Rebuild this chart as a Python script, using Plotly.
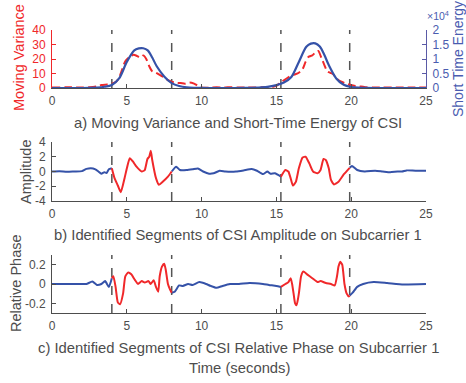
import numpy as np
import plotly.graph_objects as go

# ---------------- data ----------------
segment_bounds = [4.0, 8.0, 15.3, 19.9]
x_ticks = [0, 5, 10, 15, 20, 25]

# panel a: short time energy (right axis, raw units)
ste_t = [0, 1, 2, 2.5, 3, 3.5, 4, 4.5, 5, 5.5, 5.8, 6.1, 6.4, 6.7, 7, 7.5, 8, 8.5, 9, 9.5, 10,
         11, 12, 13, 14, 14.5, 15, 15.5, 16, 16.5, 17, 17.3, 17.6, 17.9, 18.2, 18.5, 19, 19.5,
         20, 20.5, 21, 22, 23, 24, 25]
ste_v = [0, 0, 0, 50, 150, 420, 1050, 3400, 9000, 13000, 13650, 13700, 13000, 10500, 7500, 4000,
         1700, 700, 250, 80, 20, 0, 0, 50, 250, 500, 1000, 1900, 3800, 9000, 14200, 15300, 15400,
         14300, 11500, 7900, 3300, 1100, 350, 100, 20, 0, 0, 0, 0]

# panel a: moving variance (left axis)
mv_t = [0, 1, 2, 2.5, 3, 3.3, 3.7, 4.0, 4.3, 4.5, 4.7, 4.9, 5.2, 5.45, 5.7, 5.9, 6.1, 6.3, 6.5,
        6.7, 6.95, 7.2, 7.45, 7.7, 8.0, 8.3, 8.6, 8.9, 9.2, 9.5, 9.75, 10, 10.5, 11, 11.5, 12,
        12.5, 13, 13.5, 14, 14.5, 15, 15.3, 15.6, 15.9, 16.2, 16.5, 16.75, 16.95, 17.15, 17.4,
        17.6, 17.8, 18.0, 18.2, 18.4, 18.6, 18.8, 19.0, 19.3, 19.6, 19.9, 20.2, 20.5, 20.8, 21,
        21.5, 22, 23, 24, 25]
mv_v = [0.3, 0.5, 0.3, 0.6, 1.2, 2.0, 2.5, 3.0, 4.5, 7.5, 13, 18.5, 21.5, 23, 22, 21, 22.5, 20,
        15, 11.5, 10.5, 9, 7.5, 5.8, 4.3, 3.6, 3.4, 3.0, 3.8, 3.0, 1.5, 0.3, 0.2, 0.5, 0.3, 0.6,
        0.3, 0.4, 0.3, 0.5, 0.4, 1.5, 4.0, 6.0, 8.0, 9.2, 10.5, 13, 18, 21.5, 22.5, 24.5, 25.5,
        21, 16, 11.5, 10.5, 9.5, 6.8, 4.5, 3.2, 2.2, 1.5, 1.2, 0.8, 0.5, 0.3, 0.4, 0.3, 0.3, 0.3]

# panel b: CSI amplitude on subcarrier 1
amp_t = [0, 0.5, 1, 1.5, 2, 2.3, 2.6, 2.9, 3.1, 3.3, 3.5, 3.65, 3.8, 4.0,
         4.18, 4.4, 4.6, 4.85, 5.0, 5.2, 5.43, 5.65, 6.0, 6.2, 6.38, 6.5, 6.6, 6.7, 6.95, 7.15,
         7.4, 7.75, 8.0,
         8.3, 8.55, 9.0, 9.4, 9.75, 10.1, 10.5, 10.8, 11.2, 11.6, 12.3, 12.8, 13.35, 13.7, 14.1,
         14.4, 14.6, 14.9, 15.3,
         15.6, 15.8, 15.95, 16.1, 16.3, 16.5, 16.75, 16.95, 17.2, 17.45, 17.75, 17.95, 18.15,
         18.3, 18.5, 18.65, 18.85, 19.15, 19.5, 19.9,
         20.05, 20.4, 20.9, 21.6, 22.1, 22.6, 23.1, 23.4, 23.7, 24.3, 25]
amp_v = [0, 0.05, -0.05, 0.0, 0.05, 0.35, 0.45, 0.3, 0.0, -0.3, -0.1, -0.2, 0.3, 0.45,
         -0.9, -1.9, -2.8, -0.9, 0.4, 1.8, 1.3, 0.65, 0.0, 0.2, 1.7, 2.0, 2.8, 1.56, -0.9, -1.8,
         -1.4, -0.7, 0.0,
         0.65, 0.2, 0.2, 0.3, 0.4, 0.0, -0.3, -0.25, 0.1, 0.0, 0.0, 0.15, 0.35, 0.1, -0.35,
         0.0, -0.3, -0.25, -0.7,
         0.2, 0.0, -0.9, -1.9, -1.4, 0.43, 1.9, 2.0, 1.1, 0.0, -0.25, 0.2, 1.7,
         1.56, 0.43, -1.15, -1.75, -1.4, -0.4, 0.5,
         0.75, 0.2, 0.0, 0.1, 0.0, -0.1, 0.0, 0.0, 0.15, 0.1, 0.1]

# panel c: CSI relative phase on subcarrier 1
ph_t = [0, 1, 2, 2.3, 2.7, 3.0, 3.3, 3.55, 3.8, 4.0,
        4.1, 4.25, 4.4, 4.55, 4.75, 4.9, 5.1, 5.3, 5.55, 5.75, 6.0, 6.2, 6.45, 6.6, 6.8, 6.95,
        7.1, 7.2, 7.35, 7.5, 7.6, 7.75, 7.9, 8.0,
        8.2, 8.5, 8.75, 9.1, 9.4, 9.85, 10.3, 10.6, 11.0, 11.4, 11.9, 12.5, 13.2, 14.1, 14.5,
        15.0, 15.3,
        15.6, 15.8, 15.95, 16.05, 16.15, 16.25, 16.35, 16.5, 16.65, 16.8, 17.05, 17.4, 17.75,
        17.95, 18.3, 18.65, 18.9, 19.05, 19.15, 19.27, 19.4, 19.55, 19.7, 19.85, 19.9,
        20.1, 20.4, 20.8, 21.5, 22.4, 23.5, 25]
ph_v = [0, 0, 0, 0.0, 0.025, -0.01, 0.0, 0.03, -0.03, 0.06,
        0.08, -0.03, -0.19, -0.21, -0.1, 0.08, 0.12, 0.1, 0.04, 0.0, 0.03, 0.015, 0.03, 0.0,
        0.04, -0.03, -0.08, 0.08, 0.18, 0.21, 0.15, 0.0, -0.06, -0.09,
        -0.08, -0.015, -0.02, 0.0, -0.01, 0.02, 0.0, -0.02, -0.04, -0.02, 0.0, 0.0, 0.01, 0.0,
        -0.01, -0.02, -0.03,
        0.0, 0.02, 0.06, 0.0, -0.1, -0.2, -0.22, -0.1, 0.08, 0.13, 0.1, 0.06, 0.02,
        0.03, 0.01, 0.0, -0.015, 0.08, 0.18, 0.23, 0.2, 0.0, -0.1, -0.13, -0.12,
        -0.09, -0.03, 0.0, 0.02, 0.01, -0.005, 0.0]

# ---------------- style ----------------
RED = "#f0282a"
BLUE = "#3552a8"
GRAY = "#4d4d4d"
RAXIS = "#5a5aa6"
RTEXT = "#4a5cb0"
FONT = "Liberation Sans, Arial, sans-serif"
W, H = 466, 383


def split(t, v):
    """Split a series into blue background pieces and red (segment) pieces."""
    t = np.asarray(t, float)
    v = np.asarray(v, float)
    b0, b1, b2, b3 = segment_bounds
    in_seg = ((t >= b0) & (t <= b1)) | ((t >= b2) & (t <= b3))
    out_seg = (t <= b0) | ((t >= b1) & (t <= b2)) | (t >= b3)

    def pieces(mask):
        xs, ys = [], []
        prev = False
        for ti, vi, m in zip(t, v, mask):
            if m:
                xs.append(ti); ys.append(vi)
            elif prev:
                xs.append(None); ys.append(None)
            prev = m
        return xs, ys
    return pieces(out_seg), pieces(in_seg)


def px_x(p):
    return p / W


def px_y(p):
    return 1 - p / H


fig = go.Figure()

# panel a
fig.add_trace(go.Scatter(x=mv_t, y=mv_v, mode="lines", xaxis="x", yaxis="y",
                         line=dict(color=RED, width=2, dash="8px,4px", shape="spline",
                                   smoothing=0.7),
                         showlegend=False))
fig.add_trace(go.Scatter(x=ste_t, y=ste_v, mode="lines", xaxis="x", yaxis="y2",
                         line=dict(color=BLUE, width=2.2, shape="spline", smoothing=0.8),
                         showlegend=False))

# panels b and c
for (tt, vv), xa, ya in [((amp_t, amp_v), "x2", "y3"), ((ph_t, ph_v), "x3", "y4")]:
    (bx, by), (rx, ry) = split(tt, vv)
    fig.add_trace(go.Scatter(x=bx, y=by, mode="lines", xaxis=xa, yaxis=ya,
                             line=dict(color=BLUE, width=2, shape="spline", smoothing=0.5),
                             showlegend=False))
    fig.add_trace(go.Scatter(x=rx, y=ry, mode="lines", xaxis=xa, yaxis=ya,
                             line=dict(color=RED, width=2, shape="spline", smoothing=0.5),
                             showlegend=False))

xdom = [px_x(52), px_x(426)]
dom_a = [px_y(88), px_y(30)]
dom_b = [px_y(201), px_y(142)]
dom_c = [px_y(313), px_y(255)]

tickfont = dict(family=FONT, size=12, color=GRAY)


def xaxis(anchor):
    return dict(domain=xdom, anchor=anchor, range=[0, 25], tickvals=x_ticks,
                ticks="inside", ticklen=4, tickcolor=GRAY, linecolor=GRAY, linewidth=1,
                showline=True, showgrid=False, zeroline=False, tickfont=tickfont,
                automargin=False, ticklabelstandoff=2)


fig.update_layout(
    width=W, height=H, margin=dict(l=0, r=0, t=0, b=0),
    paper_bgcolor="white", plot_bgcolor="white",
    font=dict(family=FONT, color=GRAY),
    xaxis=xaxis("y"),
    xaxis2=xaxis("y3"),
    xaxis3=xaxis("y4"),
    yaxis=dict(domain=dom_a, anchor="x", range=[0, 40], tickvals=[0, 10, 20, 30, 40],
               ticks="inside", ticklen=4, tickcolor=RED, linecolor=RED, showline=True,
               showgrid=False, zeroline=False, automargin=False,
               tickfont=dict(family=FONT, size=12, color=RED), ticklabelstandoff=3),
    yaxis2=dict(overlaying="y", side="right", anchor="x", range=[0, 20000],
                tickvals=[0, 5000, 10000, 15000, 20000], ticktext=["0", "0.5", "1", "1.5", "2"],
                ticks="inside", ticklen=4, tickcolor=RAXIS, linecolor=RAXIS, showline=True,
                showgrid=False, zeroline=False, automargin=False,
                tickfont=dict(family=FONT, size=12, color=RTEXT), ticklabelstandoff=3),
    yaxis3=dict(domain=dom_b, anchor="x2", range=[-4, 4], tickvals=[-4, -2, 0, 2, 4],
                ticktext=["-4", "-2", "0", "2", "4"],
                ticks="inside", ticklen=4, tickcolor=GRAY, linecolor=GRAY, showline=True,
                showgrid=False, zeroline=False, automargin=False, tickfont=tickfont,
                ticklabelstandoff=3),
    yaxis4=dict(domain=dom_c, anchor="x3", range=[-0.3, 0.3], tickvals=[-0.2, 0, 0.2],
                ticktext=["-0.2", "0", "0.2"],
                ticks="inside", ticklen=4, tickcolor=GRAY, linecolor=GRAY, showline=True,
                showgrid=False, zeroline=False, automargin=False, tickfont=tickfont,
                ticklabelstandoff=3),
)

# segment boundary lines
shapes = []
for xa, ya in [("x", "y"), ("x2", "y3"), ("x3", "y4")]:
    for b in segment_bounds:
        shapes.append(dict(type="line", xref=xa, yref=ya + " domain", x0=b, x1=b, y0=0, y1=1,
                           line=dict(color="#555555", width=1.5, dash="dash"), layer="below"))
fig.update_layout(shapes=shapes)

ann = []


def add_text(text, x, y, size=14.8, color=GRAY, angle=0):
    ann.append(dict(text=text, x=px_x(x), y=px_y(y), xref="paper", yref="paper",
                    showarrow=False, textangle=angle, xanchor="center", yanchor="middle",
                    font=dict(family=FONT, size=size, color=color)))


add_text("a) Moving Variance and Short-Time Energy of CSI", 238, 123)
add_text("b) Identified Segments of CSI Amplitude on Subcarrier 1", 238, 235)
add_text("c) Identified Segments of CSI Relative Phase on Subcarrier 1", 238, 348)
add_text("Time (seconds)", 239, 368)
add_text("Moving Variance", 19, 58, size=14.5, color=RED, angle=-90)
add_text("Short Time Energy", 458, 59, size=14, color=RTEXT, angle=-90)
add_text("Amplitude", 26, 172, size=14.5, angle=-90)
add_text("Relative Phase", 16, 283, size=14.5, angle=-90)
ann.append(dict(text="×10<sup>4</sup>", x=px_x(425), y=px_y(16), xref="paper", yref="paper",
                showarrow=False, xanchor="left", yanchor="middle",
                font=dict(family=FONT, size=10.5, color=RTEXT)))
fig.update_layout(annotations=ann)

fig.write_html("out.html", config={"displayModeBar": False},
               post_script="document.body.style.margin='0';document.body.style.overflow='hidden';")
